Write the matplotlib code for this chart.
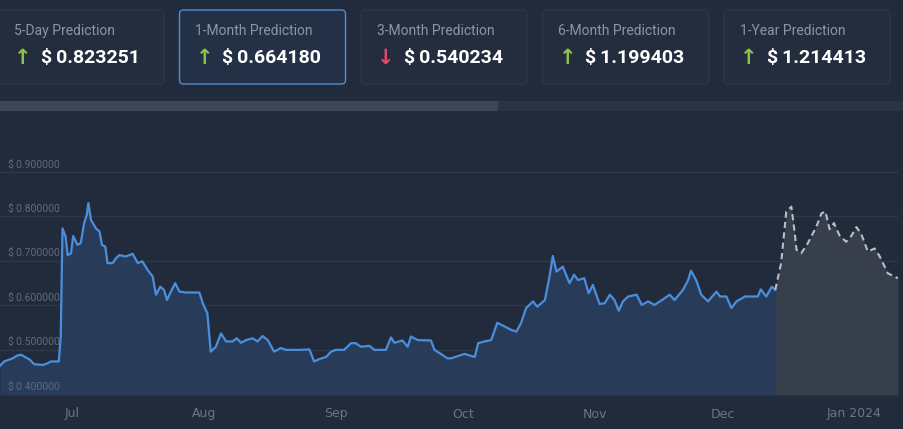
import pandas as pd
import matplotlib.pyplot as plt
from matplotlib.patches import FancyBboxPatch, Rectangle

card_titles = ["5-Day Prediction", "1-Month Prediction", "3-Month Prediction",
               "6-Month Prediction", "1-Year Prediction"]
card_values = ["$\u20090.823251", "$\u20090.664180", "$\u20090.540234",
               "$\u20091.199403", "$\u20091.214413"]
card_up = [True, True, False, True, True]

hist_dates = [
    "2023-06-14", "2023-06-15", "2023-06-17", "2023-06-18", "2023-06-19", "2023-06-21",
    "2023-06-22", "2023-06-24", "2023-06-25", "2023-06-26", "2023-06-27 20:00",
    "2023-06-28 07:00", "2023-06-28 17:00", "2023-06-29 10:00", "2023-06-29 22:00",
    "2023-06-30 17:00", "2023-07-01 05:00", "2023-07-02 06:00", "2023-07-03",
    "2023-07-03 19:00", "2023-07-04 10:00", "2023-07-04 19:00", "2023-07-05 10:00",
    "2023-07-06 14:00", "2023-07-07 10:00", "2023-07-08", "2023-07-08 19:00",
    "2023-07-09 07:00", "2023-07-10 12:00", "2023-07-11 07:00", "2023-07-12 02:00",
    "2023-07-13 14:00", "2023-07-15 05:00", "2023-07-16 10:00", "2023-07-17 12:00",
    "2023-07-18 17:00", "2023-07-19 22:00", "2023-07-20 17:00", "2023-07-21 17:00",
    "2023-07-22 14:00", "2023-07-23 07:00", "2023-07-24 05:00", "2023-07-25 05:00",
    "2023-07-26 05:00", "2023-07-27 17:00", "2023-07-30 22:00", "2023-07-31 17:00",
    "2023-08-01 19:00", "2023-08-02 14:00", "2023-08-03 19:00", "2023-08-05",
    "2023-08-06 05:00", "2023-08-07 17:00", "2023-08-08 17:00", "2023-08-09 17:00",
    "2023-08-10 22:00", "2023-08-12 10:00", "2023-08-13 14:00", "2023-08-14 19:00",
    "2023-08-16", "2023-08-17 12:00", "2023-08-19 02:00", "2023-08-20 07:00",
    "2023-08-23 10:00", "2023-08-25 19:00", "2023-08-26 22:00", "2023-08-28 02:00",
    "2023-08-29 17:00", "2023-08-30 22:00", "2023-09-01", "2023-09-03",
    "2023-09-04 14:00", "2023-09-05 17:00", "2023-09-06 22:00", "2023-09-08 22:00",
    "2023-09-10 02:00", "2023-09-12 19:00", "2023-09-14", "2023-09-14 19:00",
    "2023-09-16 17:00", "2023-09-17 22:00", "2023-09-18 17:00", "2023-09-20 07:00",
    "2023-09-23 10:00", "2023-09-24 05:00", "2023-09-25 17:00", "2023-09-27 07:00",
    "2023-09-28 05:00", "2023-10-01 07:00", "2023-10-03 17:00", "2023-10-04 12:00",
    "2023-10-06", "2023-10-07 14:00", "2023-10-09", "2023-10-12 07:00",
    "2023-10-13 12:00", "2023-10-14 14:00", "2023-10-15 19:00", "2023-10-17 10:00",
    "2023-10-18 10:00", "2023-10-20 05:00", "2023-10-21 07:00", "2023-10-22 02:00",
    "2023-10-22 22:00", "2023-10-24 10:00", "2023-10-26", "2023-10-27 02:00",
    "2023-10-28", "2023-10-29 12:00", "2023-10-30 12:00", "2023-10-31 12:00",
    "2023-11-02 02:00", "2023-11-03 07:00", "2023-11-04 12:00", "2023-11-05 14:00",
    "2023-11-06 14:00", "2023-11-07 14:00", "2023-11-08 19:00", "2023-11-10 19:00",
    "2023-11-12", "2023-11-13 12:00", "2023-11-15", "2023-11-16 14:00",
    "2023-11-18 14:00", "2023-11-19 17:00", "2023-11-21 17:00", "2023-11-22 22:00",
    "2023-11-23 14:00", "2023-11-24 19:00", "2023-11-26", "2023-11-27 14:00",
    "2023-11-29 14:00", "2023-11-30 10:00", "2023-12-01 22:00", "2023-12-03 02:00",
    "2023-12-04 07:00", "2023-12-06 07:00", "2023-12-09 07:00", "2023-12-10",
    "2023-12-11 07:00", "2023-12-12 14:00", "2023-12-13 10:00",
]
hist_prices = [
    0.464, 0.474, 0.481, 0.487, 0.489, 0.478, 0.468, 0.466, 0.469, 0.474, 0.474,
    0.530, 0.773, 0.755, 0.713, 0.717, 0.756, 0.736, 0.740, 0.785, 0.803, 0.830,
    0.792, 0.773, 0.766, 0.736, 0.732, 0.695, 0.695, 0.706, 0.713, 0.710, 0.716,
    0.695, 0.699, 0.680, 0.665, 0.624, 0.642, 0.635, 0.612, 0.631, 0.650, 0.631,
    0.629, 0.629, 0.605, 0.582, 0.496, 0.507, 0.537, 0.519, 0.519, 0.526, 0.516,
    0.522, 0.526, 0.519, 0.531, 0.522, 0.496, 0.504, 0.500, 0.500, 0.501, 0.474,
    0.479, 0.484, 0.496, 0.500, 0.500, 0.515, 0.515, 0.507, 0.509, 0.500, 0.500,
    0.528, 0.516, 0.521, 0.507, 0.530, 0.522, 0.521, 0.500, 0.491, 0.481,
    0.481, 0.491, 0.484, 0.515, 0.519, 0.522, 0.561, 0.545, 0.541, 0.560, 0.594,
    0.609, 0.597, 0.612, 0.665, 0.711, 0.676, 0.687, 0.650, 0.669, 0.657, 0.661,
    0.627, 0.646, 0.603, 0.605, 0.624, 0.612, 0.588, 0.609, 0.620, 0.624, 0.601,
    0.609, 0.601, 0.611, 0.624, 0.612, 0.635, 0.657, 0.678, 0.657, 0.624, 0.609,
    0.631, 0.620, 0.620, 0.594, 0.609, 0.620, 0.620, 0.636, 0.620, 0.642, 0.635,
]

fc_dates = [
    "2023-12-13 10:00", "2023-12-14 19:00", "2023-12-16", "2023-12-17 05:00",
    "2023-12-18", "2023-12-18 10:00", "2023-12-19 12:00", "2023-12-21 02:00",
    "2023-12-23 02:00", "2023-12-24 07:00", "2023-12-25 05:00", "2023-12-26 05:00",
    "2023-12-27 05:00", "2023-12-28 12:00", "2023-12-30 02:00", "2023-12-31 07:00",
    "2024-01-01 12:00", "2024-01-02 14:00", "2024-01-04 05:00", "2024-01-05 19:00",
    "2024-01-07", "2024-01-08 22:00", "2024-01-11 07:00",
]
fc_prices = [
    0.635, 0.695, 0.811, 0.822, 0.762, 0.725, 0.717, 0.740, 0.777, 0.807, 0.811,
    0.771, 0.785, 0.758, 0.743, 0.756, 0.776, 0.762, 0.721, 0.728, 0.710, 0.672,
    0.661,
]

y_ticks = [0.4, 0.5, 0.6, 0.7, 0.8, 0.9]
x_ticks = ["2023-07-01", "2023-08-01", "2023-09-01", "2023-10-01",
           "2023-11-01", "2023-12-01", "2024-01-01"]
x_labels = ["Jul", "Aug", "Sep", "Oct", "Nov", "Dec", "Jan 2024"]

BG = "#222b3b"
W, H = 904, 429

fig = plt.figure(figsize=(W / 100, H / 100), dpi=100, facecolor=BG)

# UI layer in pixel coordinates
ui = fig.add_axes([0, 0, 1, 1])
ui.set_xlim(0, W)
ui.set_ylim(H, 0)
ui.axis("off")

for i, (t, v, up) in enumerate(zip(card_titles, card_values, card_up)):
    x0 = -4 + i * 181.5
    selected = i == 1
    ui.add_patch(FancyBboxPatch((x0 + 2, 10), 166, 74,
                                boxstyle="round,pad=0,rounding_size=4",
                                facecolor="#243045" if selected else "#232d3e",
                                edgecolor="#4d8fd6" if selected else "#2c3648",
                                linewidth=1.0))
    ui.text(x0 + 18, 31, t, color="#8b95a5", fontsize=10, va="center",
            family="Roboto")
    ui.text(x0 + 27, 58, "\u2191" if up else "\u2193",
            color="#8bc34a" if up else "#e5486a", fontsize=15, va="center",
            ha="center", fontweight="bold", family="DejaVu Sans")
    ui.text(x0 + 45, 58, v, color="white", fontsize=14, va="center",
            fontweight="bold", family=["Roboto", "DejaVu Sans"])

ui.add_patch(Rectangle((0, 101), W, 10, facecolor="#2a3445", edgecolor="none"))
ui.add_patch(Rectangle((0, 101), 498, 10, facecolor="#3b4657", edgecolor="none"))

# chart
hd = pd.to_datetime(hist_dates, format="mixed")
fd = pd.to_datetime(fc_dates, format="mixed")

left, right, top, bottom = 0, 898, 150, 395
ax = fig.add_axes([left / W, 1 - bottom / H, (right - left) / W, (bottom - top) / H])
ax.set_facecolor("none")
ax.set_ylim(0.3985, 0.9494)
ax.set_xlim(hd[0], fd[-1])

for yv in y_ticks[1:]:
    ax.axhline(yv, color="#2d394b", linewidth=1, zorder=0)

ax.fill_between(hd, hist_prices, 0.3985, color="#2a4060", alpha=0.85, linewidth=0)
ax.fill_between(fd, fc_prices, 0.3985, color="#373f4c", linewidth=0)
ax.plot(hd, hist_prices, color="#4a8fdd", linewidth=1.6)
ax.plot(fd, fc_prices, color="#b8bec8", linewidth=1.5, linestyle=(0, (3, 2)))

for yv in y_ticks:
    ax.text(0.009, yv + 0.017, f"$\u2009{yv:.6f}", transform=ax.get_yaxis_transform(),
            color="#5f6a7a", fontsize=7.5, va="center", family=["Roboto", "DejaVu Sans"])

ax.set_yticks([])
ax.set_xticks(pd.to_datetime(x_ticks))
ax.set_xticklabels(x_labels)
ax.tick_params(axis="x", length=0, pad=9, colors="#6b7585", labelsize=9)
for s in ax.spines.values():
    s.set_visible(False)

fig.savefig("out.png", dpi=100, facecolor=BG)
